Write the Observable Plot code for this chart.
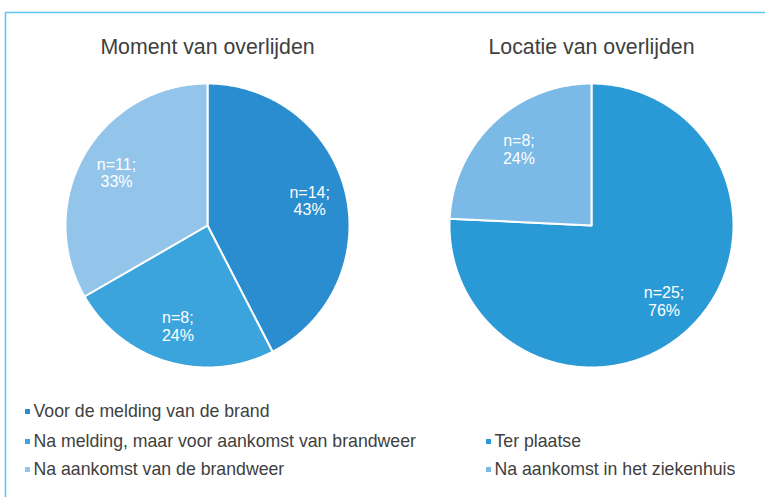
<!DOCTYPE html>
<html>
<head>
<meta charset="utf-8">
<script src="https://cdn.jsdelivr.net/npm/d3@7"></script>
<script src="https://cdn.jsdelivr.net/npm/@observablehq/plot@0.6"></script>
<style>
  html, body { margin: 0; padding: 0; background: #fff; }
  #chart svg { display: block; }
</style>
</head>
<body>
<div id="chart"></div>
<script>
// ---- Data ----
const momentTitle = "Moment van overlijden";
const momentCategories = ["Voor de melding van de brand", "Na melding, maar voor aankomst van brandweer", "Na aankomst van de brandweer"];
const momentCounts = [14, 8, 11];
const momentPercents = ["43%", "24%", "33%"];
const momentColors = ["#2a8dcf", "#3ba4dd", "#93c5ea"];

const locatieTitle = "Locatie van overlijden";
const locatieCategories = ["Ter plaatse", "Na aankomst in het ziekenhuis"];
const locatieCounts = [25, 8];
const locatiePercents = ["76%", "24%"];
const locatieColors = ["#2a9ad7", "#7bb9e6"];

// ---- Layout ----
const W = 765, H = 497;
const R = 142;
const pies = [
  {title: momentTitle, cats: momentCategories, counts: momentCounts, pcts: momentPercents, colors: momentColors, cx: 207, cy: 225},
  {title: locatieTitle, cats: locatieCategories, counts: locatieCounts, pcts: locatiePercents, colors: locatieColors, cx: 591, cy: 225}
];

const font = "'Liberation Sans', Arial, sans-serif";
const marks = [];

// border lines
const borderColor = "#5cc8f4";
marks.push(Plot.ruleY([12], {x1: 5, x2: W, stroke: borderColor, strokeWidth: 1.6}));
marks.push(Plot.ruleX([5], {y1: 12, y2: H, stroke: borderColor, strokeWidth: 1.6}));

const labelRows = [];
const titleRows = [];
for (const p of pies) {
  const arcs = d3.pie().sort(null).value(d => d)(p.counts);
  arcs.forEach((a, i) => {
    const pts = [{x: p.cx, y: p.cy}];
    const n = Math.max(2, Math.ceil((a.endAngle - a.startAngle) / (Math.PI / 360)));
    for (let k = 0; k <= n; k++) {
      const t = a.startAngle + (a.endAngle - a.startAngle) * k / n;
      pts.push({x: p.cx + R * Math.sin(t), y: p.cy - R * Math.cos(t)});
    }
    pts.push({x: p.cx, y: p.cy});
    marks.push(Plot.line(pts, {x: "x", y: "y", fill: p.colors[i], stroke: "white", strokeWidth: 2, strokeLinejoin: "round"}));
    const mid = (a.startAngle + a.endAngle) / 2;
    const f = 0.74;
    labelRows.push({x: p.cx + R * f * Math.sin(mid), y: p.cy - R * f * Math.cos(mid), text: `n=${p.counts[i]};\n${p.pcts[i]}`});
  });
  titleRows.push({x: p.cx, y: 47, text: p.title});
}

marks.push(Plot.text(labelRows, {x: "x", y: "y", text: "text", fill: "white", fontSize: 16, lineHeight: 1.1, fontFamily: font}));
marks.push(Plot.text(titleRows, {x: "x", y: "y", text: "text", fill: "#404040", fontSize: 21.3, fontFamily: font}));

// legend
const legendRows = [];
const rowY = [411, 441, 469];
momentCategories.forEach((c, i) => legendRows.push({x: 27, y: rowY[i], text: c, color: momentColors[i]}));
locatieCategories.forEach((c, i) => legendRows.push({x: 488, y: rowY[i + 1], text: c, color: locatieColors[i]}));
marks.push(Plot.dot(legendRows, {x: "x", y: "y", symbol: "square", r: 2.8, fill: "color", stroke: null}));
marks.push(Plot.text(legendRows, {x: "x", y: "y", text: "text", dx: 6, textAnchor: "start", fill: "#404040", fontSize: 17.7, fontFamily: font}));

const chart = Plot.plot({
  width: W,
  height: H,
  margin: 0,
  x: {domain: [0, W], range: [0, W], axis: null},
  y: {domain: [0, H], range: [0, H], axis: null},
  color: {type: "identity"},
  style: {fontFamily: font, background: "white"},
  marks
});
document.getElementById("chart").appendChild(chart);
</script>
</body>
</html>
